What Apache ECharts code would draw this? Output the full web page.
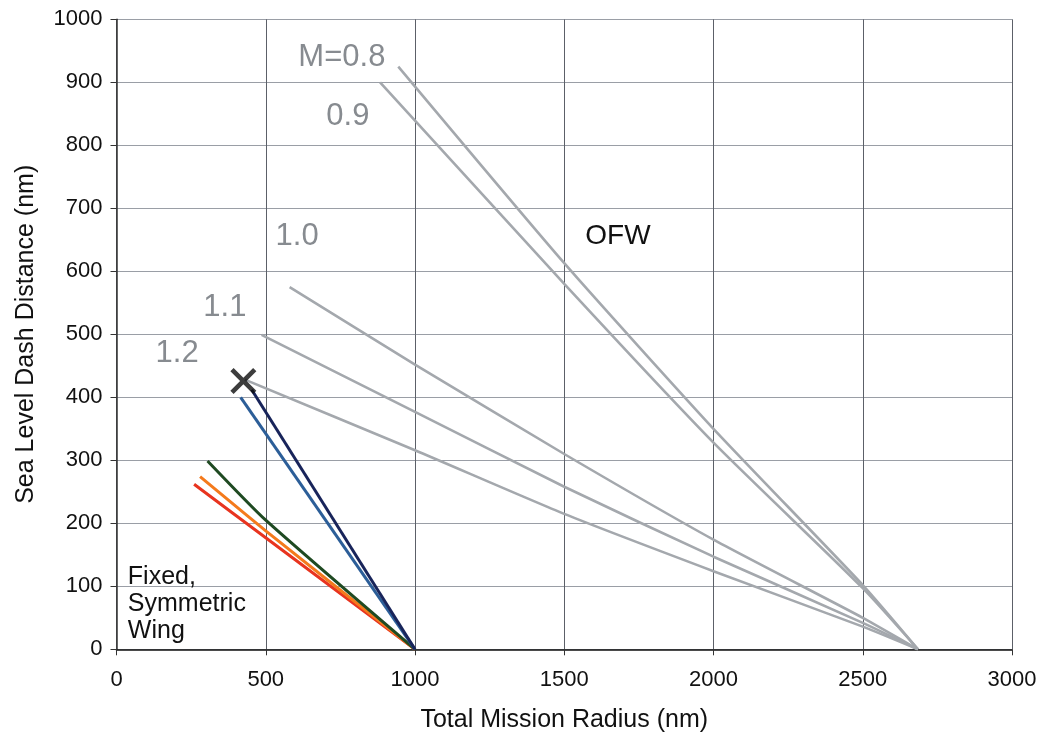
<!DOCTYPE html>
<html>
<head>
<meta charset="utf-8">
<script src="https://cdn.jsdelivr.net/npm/echarts@6/dist/echarts.min.js"></script>
<style>
  html, body { margin: 0; padding: 0; background: #fff; }
  #chart { width: 1047px; height: 740px; }
</style>
</head>
<body>
<div id="chart"></div>
<script>
// OFW curves, one per Mach number: [mission radius, dash distance]
const ofwM08 = [[944, 925], [1500, 613], [2000, 350], [2500, 102], [2685, 0]]
const ofwM09 = [[883, 900], [1500, 580], [2000, 328], [2500, 97], [2685, 0]]
const ofwM10 = [[580, 575], [1000, 452], [1500, 310], [2000, 174], [2500, 50], [2685, 0]]
const ofwM11 = [[486, 499], [1000, 377], [1500, 258], [2000, 147], [2500, 42], [2685, 0]]
const ofwM12 = [[430, 428], [1000, 316], [1500, 215], [2000, 124], [2500, 36], [2685, 0]]

// fixed, symmetric wing curves
const fixedNavy = [[453, 412], [1000, 0]]
const fixedBlue = [[416, 400], [1000, 0]]
const fixedGreen = [[305, 299], [500, 205], [1000, 0]]
const fixedOrange = [[280, 274], [500, 188], [1000, 0]]
const fixedRed = [[260, 262], [500, 177], [1000, 0]]

const designPoint = [[425, 426]]

const xTicks = [0, 500, 1000, 1500, 2000, 2500, 3000]
const yTicks = [0, 100, 200, 300, 400, 500, 600, 700, 800, 900, 1000]

// annotations in data coordinates
const machLabels = [
  { text: 'M=0.8', at: [755, 940] },
  { text: '0.9', at: [775, 845] },
  { text: '1.0', at: [605, 656] },
  { text: '1.1', at: [363, 543] },
  { text: '1.2', at: [203, 469] }
]
const ofwLabel = { text: 'OFW', at: [1680, 655] }
const fixedLabel = { text: 'Fixed,\nSymmetric\nWing', at: [38, 72] }

const FONT = '"Liberation Sans", Arial, sans-serif'
const GRAY = '#a4a8ad'

const chart = echarts.init(document.getElementById('chart'))

const line = (data, color, width) => ({
  type: 'line',
  data,
  symbol: 'none',
  smooth: 0.2,
  silent: true,
  lineStyle: { color, width },
  z: 3
})

const option = {
  animation: false,
  backgroundColor: '#fff',
  grid: { left: 116.5, right: 35, top: 19.3, bottom: 90.7 },
  xAxis: {
    type: 'value',
    min: xTicks[0],
    max: xTicks[xTicks.length - 1],
    interval: 500,
    name: 'Total Mission Radius (nm)',
    nameLocation: 'middle',
    nameGap: 58,
    nameTextStyle: { fontFamily: FONT, fontSize: 25, color: '#111' },
    axisLine: { show: true, lineStyle: { color: '#111', width: 1.5 } },
    axisTick: { show: true, length: 6, lineStyle: { color: '#333' } },
    axisLabel: { fontFamily: FONT, fontSize: 22, color: '#111', margin: 20, formatter: (v) => String(v) },
    splitLine: { show: true, lineStyle: { color: '#5c6068', width: 1 } }
  },
  yAxis: {
    type: 'value',
    min: yTicks[0],
    max: yTicks[yTicks.length - 1],
    interval: 100,
    name: 'Sea Level Dash Distance (nm)',
    nameLocation: 'middle',
    nameGap: 78,
    nameTextStyle: { fontFamily: FONT, fontSize: 25, color: '#111' },
    axisLine: { show: true, lineStyle: { color: '#333', width: 1.5 } },
    axisTick: { show: true, length: 6, lineStyle: { color: '#333' } },
    axisLabel: { fontFamily: FONT, fontSize: 22, color: '#111', margin: 14, formatter: (v) => String(v) },
    splitLine: { show: true, lineStyle: { color: '#9a9ea6', width: 1 } }
  },
  series: [
    line(ofwM08, GRAY, 2.6),
    line(ofwM09, GRAY, 2.6),
    line(ofwM10, GRAY, 2.6),
    line(ofwM11, GRAY, 2.6),
    line(ofwM12, GRAY, 2.6),
    line(fixedRed, '#e8341f', 3),
    line(fixedOrange, '#f47a1c', 3),
    line(fixedGreen, '#1f4a22', 3),
    line(fixedBlue, '#2c5e98', 3),
    line(fixedNavy, '#18245a', 3),
    {
      type: 'scatter',
      data: designPoint,
      symbol: 'path://M0,3L3,0L12,9L21,0L24,3L15,12L24,21L21,24L12,15L3,24L0,21L9,12Z',
      symbolSize: 26,
      itemStyle: { color: '#0c0c0c' },
      silent: true,
      z: 5
    }
  ]
}

chart.setOption(option)

// place the annotation texts from their data coordinates
const toPx = (p) => chart.convertToPixel({ gridIndex: 0 }, p)
const graphics = machLabels.map((l) => {
  const [x, y] = toPx(l.at)
  return {
    type: 'text', x, y,
    style: { text: l.text, fontFamily: FONT, fontSize: 31, fill: '#878b90', align: 'center', verticalAlign: 'middle' }
  }
})
{
  const [x, y] = toPx(ofwLabel.at)
  graphics.push({
    type: 'text', x, y,
    style: { text: ofwLabel.text, fontFamily: FONT, fontSize: 28, fill: '#111', align: 'center', verticalAlign: 'middle' }
  })
}
{
  const [x, y] = toPx(fixedLabel.at)
  graphics.push({
    type: 'text', x, y,
    style: { text: fixedLabel.text, fontFamily: FONT, fontSize: 25, lineHeight: 27, fill: '#111', align: 'left', verticalAlign: 'middle' }
  })
}
chart.setOption({ graphic: graphics })
</script>
</body>
</html>
